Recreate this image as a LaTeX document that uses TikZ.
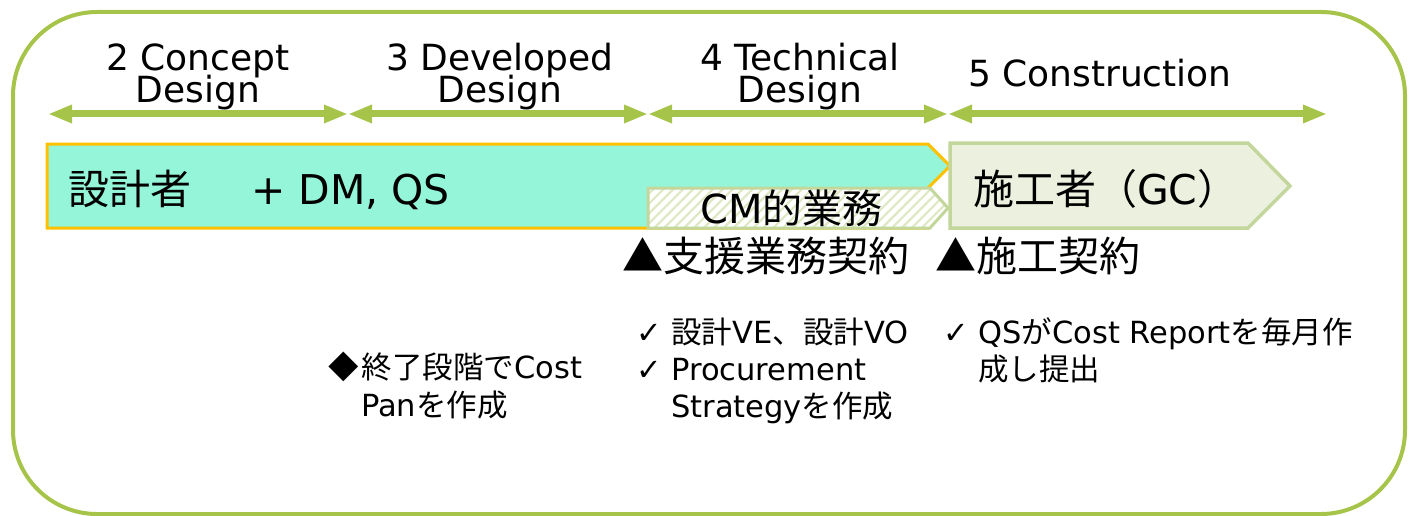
\documentclass[tikz,border=0pt]{standalone}
\usepackage{fontspec}
\setmainfont{DejaVu Sans}
\newfontfamily\jp{Noto Sans CJK JP}
\usetikzlibrary{arrows.meta,patterns.meta}

\definecolor{framegreen}{RGB}{166,196,74}
\definecolor{designfill}{RGB}{149,245,216}
\definecolor{designedge}{RGB}{255,192,0}
\definecolor{gcfill}{RGB}{235,241,222}
\definecolor{gcedge}{RGB}{195,214,155}
\definecolor{hatchgreen}{RGB}{222,233,196}

\tikzset{
  phasearrow/.style={framegreen, line width=7pt,
    {Triangle[length=24pt,width=17pt]}-{Triangle[length=24pt,width=17pt]}},
  phaselabel/.style={anchor=base, inner sep=0pt, font=\fontsize{36}{32}\selectfont},
  bartext/.style={anchor=base west, inner sep=0pt, font=\fontsize{41}{44}\selectfont},
  contract/.style={anchor=base west, inner sep=0pt, font=\fontsize{41}{44}\selectfont\jp},
  note/.style={anchor=base west, inner sep=0pt, font=\fontsize{30.5}{37}\selectfont},
}

\begin{document}
\begin{tikzpicture}[x=1pt,y=-1pt]
\useasboundingbox (0,0) rectangle (1410,516);

% outer frame
\draw[framegreen, line width=4pt, rounded corners=84pt] (13,12) rectangle (1405,514);

% phase timeline
\coordinate (t0) at (48,114);
\coordinate (t1) at (348,114);
\coordinate (t2) at (648,114);
\coordinate (t3) at (948,114);
\coordinate (t4) at (1327,114);
\draw[phasearrow] (t0) -- (t1);
\draw[phasearrow] (t1) -- (t2);
\draw[phasearrow] (t2) -- (t3);
\draw[phasearrow] (t3) -- (t4);

\node[phaselabel] (p2a) at (198,71) {2 Concept};
\node[phaselabel] (p2b) at (198,103) {Design};
\node[phaselabel] (p3a) at (500,71) {3 Developed};
\node[phaselabel] (p3b) at (500,103) {Design};
\node[phaselabel] (p4a) at (800,71) {4 Technical};
\node[phaselabel] (p4b) at (800,103) {Design};
\node[phaselabel, anchor=base west] (p5) at (968,87) {5 Construction};

% designer bar
\draw[fill=designfill, draw=designedge, line width=3pt, line join=miter]
  (47,144) -- (928,144) -- (950,166) -- (928,188) -- (928,228) -- (47,228) -- cycle;

% CM work bar (hatched)
\fill[white] (648,188) -- (930,188) -- (948,208) -- (930,228) -- (648,228) -- cycle;
\fill[pattern={Lines[angle=45,distance=7pt,line width=2.2pt]}, pattern color=hatchgreen]
  (648,188) -- (930,188) -- (948,208) -- (930,228) -- (648,228) -- cycle;
\draw[gcedge, line width=3pt, line join=miter]
  (648,188) -- (930,188) -- (948,208) -- (930,228) -- (648,228) -- cycle;

% contractor bar
\draw[fill=gcfill, draw=gcedge, line width=3.5pt, line join=miter]
  (950,143) -- (1248,143) -- (1290,186) -- (1248,228) -- (950,228) -- cycle;

\node[bartext] (designer) at (68,204) {{\jp 設計者}\hspace{60pt}+ DM, QS};
\node[bartext, font=\fontsize{40}{44}\selectfont] (cm) at (700,223) {CM{\jp 的業務}};
\node[bartext] (gc) at (973,204) {{\jp 施工者（}GC{\jp ）}};

% contract milestones
\node[contract] (support) at (622,271) {▲支援業務契約};
\node[contract] (build) at (935,271) {▲施工契約};

% notes
\node[note] (n1a) at (328,378) {{\jp ◆}\hspace{3pt}{\jp 終了段階で}Cost};
\node[note] (n1b) at (361,416) {Pan{\jp を作成}};

\node[note] (n2a) at (636,343) {✓ {\jp 設計}VE{\jp 、設計}VO};
\node[note] (n2b) at (636,380) {✓ Procurement};
\node[note] (n2c) at (671,417) {Strategy{\jp を作成}};

\node[note] (n3a) at (943,343) {✓ QS{\jp が}Cost Report{\jp を毎月作}};
\node[note] (n3b) at (978,380) {{\jp 成し提出}};
\end{tikzpicture}
\end{document}
